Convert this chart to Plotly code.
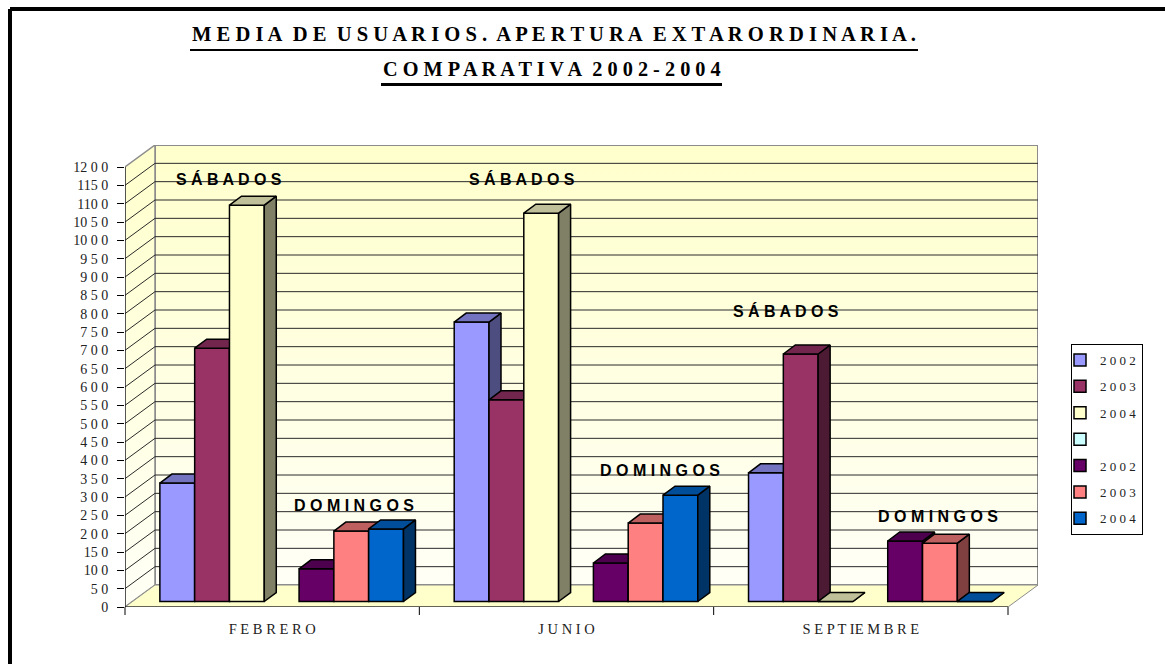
import plotly.graph_objects as go

# ---------- data ----------
months = ["F E B R E R O", "J U N I O", "S E P T IE M B R E"]
series_names = ["2 0 0 2", "2 0 0 3", "2 0 0 4", " ", "2 0 0 2", "2 0 0 3", "2 0 0 4"]
sab_2002 = [323, 762, 351]
sab_2003 = [691, 550, 675]
sab_2004 = [1081, 1059, 0]
blank = [None, None, None]
dom_2002 = [89, 105, 165]
dom_2003 = [192, 214, 159]
dom_2004 = [198, 290, 0]
y_ticks = list(range(0, 1201, 50))
y_tick_labels = ["0", "5 0", "10 0", "15 0", "2 0 0", "2 5 0", "3 0 0", "3 5 0", "4 0 0",
                 "4 5 0", "5 0 0", "5 5 0", "6 0 0", "6 5 0", "7 0 0", "7 5 0", "8 0 0",
                 "8 5 0", "9 0 0", "9 5 0", "10 0 0", "10 5 0", "110 0", "115 0", "12 0 0"]
series_values = [sab_2002, sab_2003, sab_2004, blank, dom_2002, dom_2003, dom_2004]

# ---------- styles ----------
front = ["#9999FF", "#993366", "#FFFFCC", "#CCFFFF", "#660066", "#FF8080", "#0066CC"]
top = ["#7373BF", "#73264D", "#BFBF99", "#99BFBF", "#4D004D", "#BF6060", "#004D99"]
side = ["#4D4D80", "#4D1A33", "#808066", "#668080", "#330033", "#804040", "#003366"]

W, H = 1165, 664
PX_L, PX_R, PX_T, PX_B = 125, 1038, 145, 607
UX = (1008 - 125) / 3          # px per category
UY = 440 / 1200                # px per value unit
BACK_X, BACK_V = 30 / UX, 22 / UY     # depth of the room in data units
BAR_DX, BAR_DV = 12 / UX, 9 / UY      # depth of a bar
SHIFT_X, SHIFT_V = 9.5 / UX, 15.0     # front plane of bars
BAR_W = 34.8 / UX
GAP = (1 - 7 * BAR_W) / 2

dom_x = [PX_L / W, PX_R / W]
dom_y = [1 - PX_B / H, 1 - PX_T / H]

fig = go.Figure()
xl, xr = -0.5, 2.5
bl, br = xl + BACK_X, xr + BACK_X
vtop = 1200
grad = dict(type="vertical", colorscale=[[0, "#FFFFF6"], [1, "#FFFFCC"]])

fig.add_trace(go.Scatter(x=[bl, br, br, bl, bl], y=[BACK_V, BACK_V, vtop + BACK_V, vtop + BACK_V, BACK_V],
                         mode="lines", fill="toself", fillgradient=grad,
                         line=dict(color="#8C8C8C", width=2), showlegend=False, hoverinfo="skip"))
fig.add_trace(go.Scatter(x=[xl, bl, bl, xl, xl], y=[0, BACK_V, vtop + BACK_V, vtop, 0],
                         mode="lines", fill="toself", fillgradient=grad,
                         line=dict(color="#8C8C8C", width=1.5), showlegend=False, hoverinfo="skip"))
fig.add_trace(go.Scatter(x=[xl, bl, br, xr, xl], y=[0, BACK_V, BACK_V, 0, 0],
                         mode="lines", fill="toself", fillcolor="#FFFFCC",
                         line=dict(color="#8C8C8C", width=1), showlegend=False, hoverinfo="skip"))
gx, gy = [], []
for v in y_ticks[1:-1]:
    gx += [xl, bl, br, None]
    gy += [v, v + BACK_V, v + BACK_V, None]
fig.add_trace(go.Scatter(x=gx, y=gy, mode="lines", line=dict(color="#2A2A2A", width=1),
                         showlegend=False, hoverinfo="skip"))
fig.add_trace(go.Scatter(x=[xl, xl, xr], y=[vtop, 0, 0], mode="lines",
                         line=dict(color="#000000", width=1), showlegend=False, hoverinfo="skip"))

cats = list(range(len(months)))
for i, vals in enumerate(series_values):
    n = i + 2
    xa, ya = f"x{n}", f"y{n}"
    offset = -0.5 + GAP + i * BAR_W
    fig.add_trace(go.Bar(x=cats, y=vals, name=series_names[i], xaxis=xa, yaxis=ya,
                         width=BAR_W, offset=offset, legendgroup=f"s{i}",
                         marker=dict(color=front[i], line=dict(color="#000000", width=1.5))))
    sx, sy, tx, ty = [], [], [], []
    for c, v in zip(cats, vals):
        if v is None:
            continue
        l = c + offset
        r = l + BAR_W
        sx += [r, r + BAR_DX, r + BAR_DX, r, r, None]
        sy += [0, BAR_DV, v + BAR_DV, v, 0, None]
        tx += [l, r, r + BAR_DX, l + BAR_DX, l, None]
        ty += [v, v, v + BAR_DV, v + BAR_DV, v, None]
    if sx:
        fig.add_trace(go.Scatter(x=sx, y=sy, xaxis=xa, yaxis=ya, mode="lines", fill="toself",
                                 fillcolor=side[i], line=dict(color="#000000", width=1.5),
                                 showlegend=False, hoverinfo="skip"))
        fig.add_trace(go.Scatter(x=tx, y=ty, xaxis=xa, yaxis=ya, mode="lines", fill="toself",
                                 fillcolor=top[i], line=dict(color="#000000", width=1.5),
                                 showlegend=False, hoverinfo="skip"))
    fig.update_layout({
        f"xaxis{n}": dict(domain=dom_x, anchor=ya, visible=False, type="linear", automargin=False,
                          range=[xl - SHIFT_X, xl - SHIFT_X + (PX_R - PX_L) / UX]),
        f"yaxis{n}": dict(domain=dom_y, anchor=xa, visible=False, automargin=False,
                          range=[-SHIFT_V, -SHIFT_V + (PX_B - PX_T) / UY]),
    })

serif = "Liberation Serif"
fig.update_layout(
    template="none",
    width=W, height=H, margin=dict(l=0, r=0, t=0, b=0), autosize=False,
    paper_bgcolor="#FFFFFF", plot_bgcolor="rgba(0,0,0,0)", barmode="overlay",
    font=dict(family=serif, color="#222222"),
    xaxis=dict(domain=dom_x, range=[xl, xr + BACK_X], tickmode="array", tickvals=cats, automargin=False,
               ticktext=months, tickfont=dict(size=14.5, family=serif, color="#222222"),
               showgrid=False, zeroline=False, ticks="", showline=False, ticklabelstandoff=11),
    yaxis=dict(domain=dom_y, range=[0, (PX_B - PX_T) / UY], tickmode="array", tickvals=y_ticks, automargin=False,
               ticktext=y_tick_labels, tickfont=dict(size=14, family=serif, color="#222222"),
               showgrid=False, zeroline=False, ticks="outside", ticklen=7, tickcolor="#000000",
               tickwidth=1, showline=False, ticklabelstandoff=6),
    showlegend=True,
    legend=dict(x=1071 / W, y=1 - 344 / H, xanchor="left", yanchor="top", bordercolor="#000000",
                borderwidth=1, tracegroupgap=6.5, indentation=-12, font=dict(size=13, family=serif, color="#222222"),
                bgcolor="#FFFFFF", traceorder="grouped", itemclick=False, itemdoubleclick=False),
    title=dict(text="<b>M E D I A\u00a0 D E\u00a0 U S U A R I O S .\u00a0 A P E R T U R A\u00a0 E X T A R O R D I N A R I A .</b>",
               x=554 / W, xanchor="center", y=1 - 34 / H, yanchor="middle",
               font=dict(size=20.6, family=serif, color="#000000")),
)

def ann(text, cx, cy, size=16, family="Liberation Sans", color="#000000"):
    fig.add_annotation(text=f"<b>{text}</b>", x=cx / W, y=1 - cy / H, xref="paper", yref="paper",
                       showarrow=False, font=dict(size=size, family=family, color=color),
                       xanchor="center", yanchor="middle")

ann("C O M P A R A T I V A\u00a0 2 0 0 2 - 2 0 0 4", 552, 69, size=20.3, family=serif)
for cx, cy in [(229, 179), (522, 179), (786, 311)]:
    ann("S Á B A D O S", cx, cy)
for cx, cy in [(354, 505), (660, 470), (938, 516)]:
    ann("D O M I N G O S", cx, cy)

def pline(x0, y0, x1, y1, color, width):
    fig.add_shape(type="line", xref="paper", yref="paper", x0=x0 / W, y0=1 - y0 / H, x1=x1 / W, y1=1 - y1 / H,
                  line=dict(color=color, width=width))

pline(10, 9, W, 9, "#000000", 4)
pline(10, 9, 10, H, "#000000", 4)
pline(190, 50, 918, 50, "#000000", 2)
pline(381, 84.5, 722, 84.5, "#000000", 3)
for c in range(4):
    px = 125 + c * UX
    pline(px, 607, px, 615, "#000000", 1)

fig.write_html("out.html", post_script="document.body.style.margin='0';", config=dict(displayModeBar=False))
